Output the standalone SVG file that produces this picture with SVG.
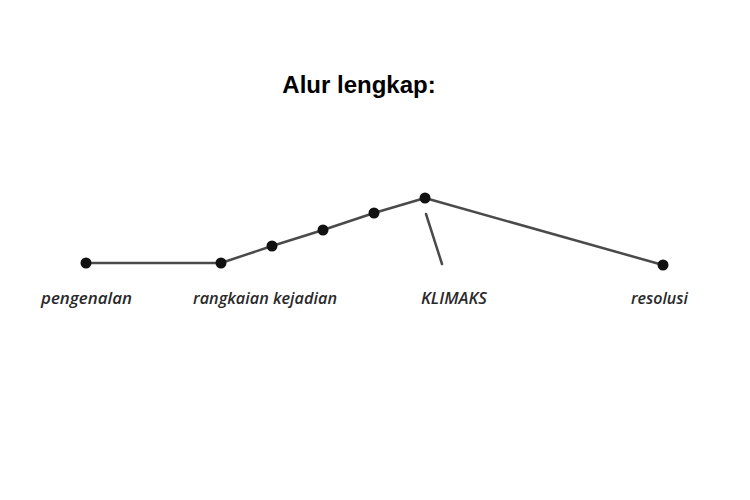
<svg xmlns="http://www.w3.org/2000/svg" width="750" height="500" viewBox="0 0 750 500">
<style>
.title{font-family:"Liberation Sans",Arial,sans-serif;font-weight:bold;font-size:24px;fill:#000}
.lbl{font-family:"Open Sans","Noto Sans",sans-serif;font-style:italic;font-weight:600;font-size:17px;fill:#2a2a2a}
.ln{stroke:#4a4a4a;stroke-width:2.5;fill:none;stroke-linecap:round;stroke-linejoin:round}
.dot{fill:#111}
</style>
<rect width="750" height="500" fill="#fff"/>
<text class="title" x="359" y="93" text-anchor="middle">Alur lengkap:</text>
<g id="connectors">
<polyline class="ln" points="86,263 221,263 272,246 323,230 374,213 425,198 663,265"/>
<line class="ln" x1="426" y1="214" x2="442" y2="264" stroke-width="1.6"/>
</g>
<g id="pengenalan"><circle class="dot" cx="86" cy="263" r="5.5"/><text class="lbl" x="41" y="304" textLength="91" lengthAdjust="spacingAndGlyphs">pengenalan</text></g>
<g id="rangkaian"><circle class="dot" cx="221" cy="263" r="5.5"/><text class="lbl" x="193" y="304" textLength="144" lengthAdjust="spacingAndGlyphs">rangkaian kejadian</text></g>
<g id="p2"><circle class="dot" cx="272" cy="246" r="5.5"/></g>
<g id="p3"><circle class="dot" cx="323" cy="230" r="5.5"/></g>
<g id="p4"><circle class="dot" cx="374" cy="213" r="5.5"/></g>
<g id="klimaks"><circle class="dot" cx="425" cy="198" r="5.5"/><text class="lbl" x="421" y="304" textLength="66" lengthAdjust="spacingAndGlyphs">KLIMAKS</text></g>
<g id="resolusi"><circle class="dot" cx="663" cy="265" r="5.5"/><text class="lbl" x="631" y="304" textLength="57" lengthAdjust="spacingAndGlyphs">resolusi</text></g>
</svg>
